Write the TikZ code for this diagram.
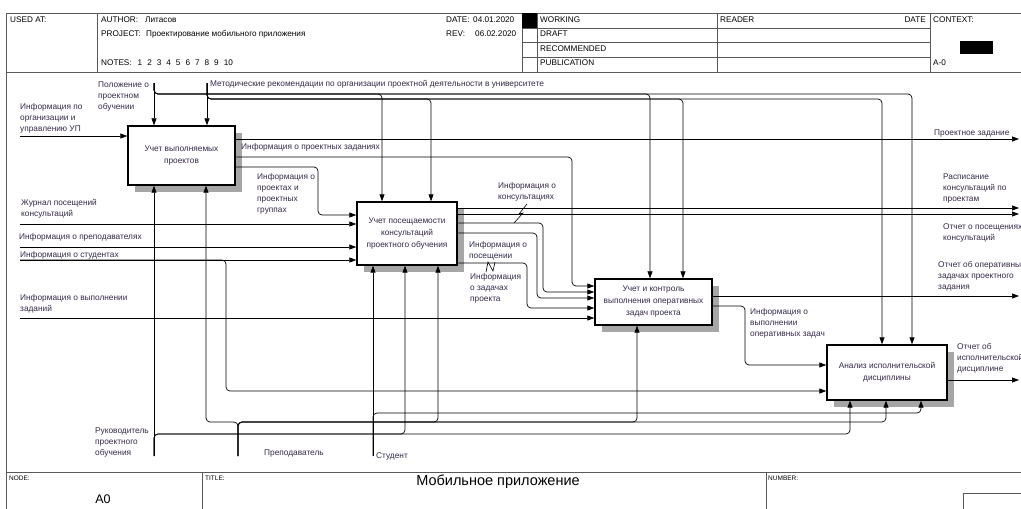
\documentclass[tikz,border=0pt]{standalone}
\usepackage{fontspec}
\setmainfont{Liberation Sans}
\usetikzlibrary{arrows.meta, positioning, shadows}
\definecolor{ink}{RGB}{52,40,72}
\tikzset{
    block/.style={rectangle, draw, line width=1.4pt, fill=white, align=center, inner sep=1pt, text=ink,
        font=\fontsize{8.3}{12}\selectfont,
        drop shadow={shadow xshift=7pt, shadow yshift=-7pt, fill=black!35, opacity=1}},
    arrow/.style={line width=0.7pt, rounded corners=4pt, -{Triangle[length=7pt, width=5pt]}},
    wire/.style={line width=0.7pt, rounded corners=4pt},
    lbl/.style={align=left, anchor=north west, inner sep=0pt, text=ink, font=\fontsize{8.3}{10.8}\selectfont},
    hdr/.style={anchor=west, inner sep=0pt, font=\fontsize{8.2}{10}\selectfont},
    tiny/.style={anchor=west, inner sep=0pt, font=\fontsize{6.5}{8}\selectfont},
    frame/.style={draw=black!65, line width=0.8pt}
}

\begin{document}
\begin{tikzpicture}[x=1pt, y=-1pt]
    \useasboundingbox (0,0) rectangle (1021,509);

    % Frame (header and footer)
    \draw[frame] (6,509) -- (6,13) -- (1021,13);
    \draw[frame] (6,72) -- (1021,72);
    \draw[frame] (97,13) -- (97,72);
    \draw[frame] (522,13) -- (522,72);
    \draw[frame] (537,13) -- (537,72);
    \draw[frame] (717,13) -- (717,72);
    \draw[frame] (930,13) -- (930,72);
    \foreach \y in {28,42,57} \draw[frame] (522,\y) -- (930,\y);
    \fill (522,13) rectangle (537,28);
    \fill (960,41) rectangle (993,54);
    \draw[frame] (6,472) -- (1021,472);
    \draw[frame] (202,472) -- (202,509);
    \draw[frame] (766,472) -- (766,509);
    \draw[frame] (963,509) |- (1021,493);

    \node[hdr] (usedat) at (10,20) {USED AT:};
    \node[hdr] (author) at (101,20) {\makebox[44pt][l]{AUTHOR:}Литасов};
    \node[hdr] (project) at (101,34) {\makebox[45pt][l]{PROJECT:}Проектирование мобильного приложения};
    \node[hdr] (notes) at (101,63) {NOTES:\hspace{6pt}1\hspace{5pt}2\hspace{5pt}3\hspace{5pt}4\hspace{5pt}5\hspace{5pt}6\hspace{5pt}7\hspace{5pt}8\hspace{5pt}9\hspace{5pt}10};
    \node[hdr] (date) at (446,20) {\makebox[27pt][l]{DATE:}04.01.2020};
    \node[hdr] (rev) at (446,34) {\makebox[29pt][l]{REV:}06.02.2020};
    \node[hdr] (working) at (540,20) {WORKING};
    \node[hdr] (draft) at (540,34) {DRAFT};
    \node[hdr] (recom) at (540,49) {RECOMMENDED};
    \node[hdr] (publ) at (540,63) {PUBLICATION};
    \node[hdr] (reader) at (720,20) {READER};
    \node[hdr, anchor=east] (rdate) at (926,20) {DATE};
    \node[hdr] (context) at (933,20) {CONTEXT:};
    \node[hdr] (ctxnum) at (933,63) {A-0};
    \node[tiny] (nodelbl) at (9,478) {NODE:};
    \node[inner sep=0pt, font=\fontsize{12.5}{14}\selectfont] (nodenum) at (103,499) {A0};
    \node[tiny] (titlelbl) at (205,478) {TITLE:};
    \node[inner sep=0pt, font=\fontsize{14.5}{16}\selectfont] (title) at (498,482) {Мобильное приложение};
    \node[tiny] (numlbl) at (768,478) {NUMBER:};

    % Boxes
    \node[block, minimum width=107, minimum height=59] (A) at (181.5,155.5) {Учет выполняемых\\проектов};
    \node[block, minimum width=100, minimum height=63] (B) at (407,233.5) {Учет посещаемости\\консультаций\\проектного обучения};
    \node[block, minimum width=117, minimum height=46] (C) at (653.5,302) {Учет и контроль\\выполнения оперативных\\задач проекта};
    \node[block, minimum width=120, minimum height=55] (D) at (887,372.5) {Анализ исполнительской\\дисциплины};

    % Free ends
    \coordinate (c1) at (154,83);
    \coordinate (c2) at (207,83);
    \coordinate (i1) at (20,136);
    \coordinate (i2) at (20,224);
    \coordinate (i3) at (20,247);
    \coordinate (i4) at (20,260);
    \coordinate (i5) at (20,318);
    \coordinate (o1) at (1019,139);
    \coordinate (o2) at (1019,208);
    \coordinate (o3) at (1019,214);
    \coordinate (o4) at (1019,296);
    \coordinate (o5) at (1019,380);
    \coordinate (m1) at (154,456);
    \coordinate (m2) at (238,456);
    \coordinate (m3) at (373,456);

    % Controls (top)
    \draw[arrow] (c1) -- (c1 |- A.north);
    \draw[arrow] (c1) |- (382,94) -- (382,94 |- B.north);
    \draw[arrow] (c1) |- (650,94) -- (650,94 |- C.north);
    \draw[arrow] (c1) |- (912,94) -- (912,94 |- D.north);
    \draw[arrow] (c2) -- (c2 |- A.north);
    \draw[arrow] (c2) |- (431,99) -- (431,99 |- B.north);
    \draw[arrow] (c2) |- (683,99) -- (683,99 |- C.north);
    \draw[arrow] (c2) |- (882,99) -- (882,99 |- D.north);

    % Inputs (left)
    \draw[arrow] (i1) -- (i1 -| A.west);
    \draw[arrow] (i2) -- (i2 -| B.west);
    \draw[arrow] (i3) -- (i3 -| B.west);
    \draw[arrow] (i4) -- (i4 -| B.west);
    \draw[arrow] (i4) -| (226,391) -- (D.west |- 0,391); % students also go to the analysis
    \draw[arrow] (i5) -- (i5 -| C.west);

    % Outputs A
    \draw[arrow] (A.east |- o1) -- (o1);
    \draw[arrow] (A.east |- 0,157) -| (572,286) -- (C.west |- 0,286);
    \draw[arrow] (A.east |- 0,167) -| (318,215) -- (B.west |- 0,215);

    % Outputs B
    \draw[arrow] (B.east |- o2) -- (o2);
    \draw[arrow] (B.east |- o3) -- (o3);
    \draw[arrow] (B.east |- 0,223) -| (543,292) -- (C.west |- 0,292);
    \draw[arrow] (B.east |- 0,233) -| (537,298) -- (C.west |- 0,298);
    \draw[arrow] (B.east |- 0,263) -| (527,308) -- (C.west |- 0,308);

    % Outputs C and D
    \draw[arrow] (C.east |- o4) -- (o4);
    \draw[arrow] (C.east |- 0,306) -| (745,365) -- (D.west |- 0,365);
    \draw[arrow] (D.east |- o5) -- (o5);

    % Mechanisms (bottom)
    \draw[arrow] (m1) -- (m1 |- A.south);
    \draw[arrow] (m1) |- (405,434) -- (405,434 |- B.south);
    \draw[arrow] (m1) |- (850,434) -- (850,434 |- D.south);
    \draw[arrow] (m2) |- (206,422) -- (206,422 |- A.south);
    \draw[arrow] (m2) |- (438,422) -- (438,422 |- B.south);
    \draw[arrow] (m2) |- (637,422) -- (637,422 |- C.south);
    \draw[arrow] (m2) |- (886,422) -- (886,422 |- D.south);
    \draw[arrow] (m3) -- (m3 |- B.south);
    \draw[arrow] (m3) |- (921,413) -- (921,413 |- D.south);

    % Squiggles
    \draw[line width=0.6pt] (527,204) -- (519,214) -- (523,213) -- (514,223);
    \draw[line width=0.6pt] (486,272) -- (488,262) -- (493,271) -- (495,262);

    % Labels
    \node[lbl] (l1) at (20,103.5) {Информация по\\организации и\\управлению УП};
    \node[lbl] (l2) at (98,81.5) {Положение о\\проектном\\обучении};
    \node[lbl] (l3) at (210,80) {Методические рекомендации по организации проектной деятельности в университете};
    \node[lbl] (l4) at (241,143) {Информация о проектных заданиях};
    \node[lbl] (l5) at (257,173.5) {Информация о\\проектах и\\проектных\\группах};
    \node[lbl] (l6) at (21,199.5) {Журнал посещений\\консультаций};
    \node[lbl] (l7) at (19,233.5) {Информация о преподавателях};
    \node[lbl] (l8) at (20,251.5) {Информация о студентах};
    \node[lbl] (l9) at (20,294.5) {Информация о выполнении\\заданий};
    \node[lbl] (l10) at (498,182.5) {Информация о\\консультациях};
    \node[lbl] (l11) at (469,241.5) {Информация о\\посещении};
    \node[lbl] (l12) at (470,273.5) {Информация\\о задачах\\проекта};
    \node[lbl] (l13) at (934,129.5) {Проектное задание};
    \node[lbl] (l14) at (943,173.5) {Расписание\\консультаций по\\проектам};
    \node[lbl] (l15) at (943,223.5) {Отчет о посещениях\\консультаций};
    \node[lbl] (l16) at (938,261.5) {Отчет об оперативных\\задачах проектного\\задания};
    \node[lbl] (l17) at (750,308.5) {Информация о\\выполнении\\оперативных задач};
    \node[lbl] (l18) at (957,343.5) {Отчет об\\исполнительской\\дисциплине};
    \node[lbl] (l19) at (95,427.5) {Руководитель\\проектного\\обучения};
    \node[lbl] (l20) at (264,449.5) {Преподаватель};
    \node[lbl] (l21) at (376,452.5) {Студент};

\end{tikzpicture}
\end{document}
